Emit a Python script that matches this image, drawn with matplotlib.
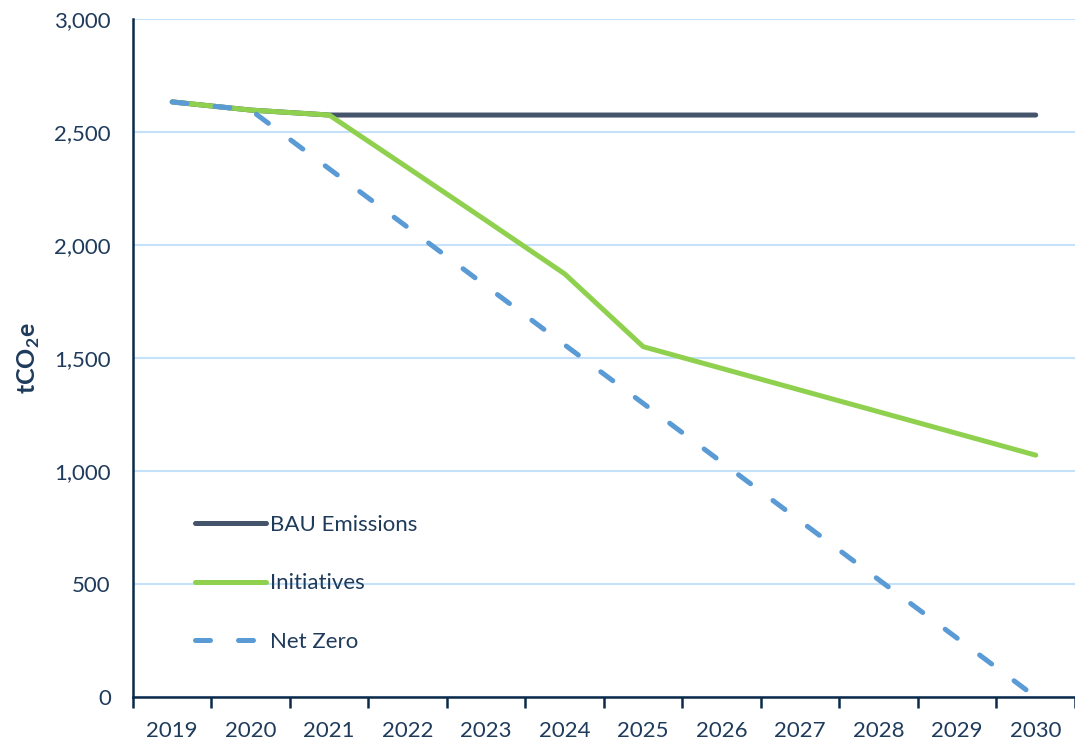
import numpy as np
import matplotlib
matplotlib.use("Agg")
import matplotlib.pyplot as plt

plt.rcParams['font.family'] = ['Lato', 'DejaVu Sans']
plt.rcParams['mathtext.fontset'] = 'custom'
plt.rcParams['mathtext.bf'] = 'Lato:bold'
plt.rcParams['mathtext.rm'] = 'Lato'

# data
years = ['2019', '2020', '2021', '2022', '2023', '2024',
         '2025', '2026', '2027', '2028', '2029', '2030']
bau = [2633, 2597, 2575, 2575, 2575, 2575, 2575, 2575, 2575, 2575, 2575, 2575]
initiatives = [2633, 2597, 2575, 2342, 2108, 1872, 1550, 1454, 1358, 1262, 1166, 1070]
net_zero = [2633, 2597, 2337, 2078, 1818, 1558, 1299, 1039, 779, 519, 260, 0]

text_col = '#1F3B5C'
axis_col = '#0B2A4A'

fig = plt.figure(figsize=(10.75, 7.47), dpi=100)
ax = fig.add_axes([0.1237, 0.0669, 0.8763, 0.9077])

x = np.arange(len(years))
ax.plot(x, bau, color='#44546A', lw=3.6, solid_capstyle='round', label='BAU Emissions', zorder=3)
ax.plot(x, initiatives, color='#8FD14F', lw=3.6, solid_capstyle='round', label='Initiatives', zorder=4)
ax.plot(x, net_zero, color='#5B9BD5', lw=3.6, linestyle=(0, (3, 5.6)),
        dash_capstyle='round', label='Net Zero', zorder=5)

ax.set_xlim(-0.5, len(years) - 0.5)
ax.set_ylim(0, 3000)

# y axis
ax.set_yticks(np.arange(0, 3001, 500))
ax.set_yticklabels([f'{v:,}' for v in range(0, 3001, 500)])
ax.tick_params(axis='y', length=0, pad=16, labelsize=16, labelcolor=text_col)
ax.grid(axis='y', color='#C6E2FA', lw=1.5, zorder=0)
ax.set_axisbelow(True)

# x axis: tick marks between categories, labels at centres
ax.set_xticks(np.arange(-0.5, len(years)), minor=False)
ax.set_xticklabels([])
ax.set_xticks(x, minor=True)
ax.set_xticklabels(years, minor=True)
ax.tick_params(axis='x', which='major', length=8, width=1.8, color=axis_col, direction='out')
ax.tick_params(axis='x', which='minor', length=0, pad=17, labelsize=16, labelcolor=text_col)

for s in ['top', 'right']:
    ax.spines[s].set_visible(False)
for s in ['left', 'bottom']:
    ax.spines[s].set_color(axis_col)
    ax.spines[s].set_linewidth(1.8)

ax.set_ylabel(r'tCO$_\mathbf{2}$e', fontsize=18, fontweight='bold', color=text_col, labelpad=9)

leg = ax.legend(loc='lower left', bbox_to_anchor=(0.045, 0.0375), frameon=False,
                fontsize=16, handlelength=3.2, handletextpad=0.15, labelspacing=1.72)
for t in leg.get_texts():
    t.set_color(text_col)

fig.savefig('out.png', dpi=100)
